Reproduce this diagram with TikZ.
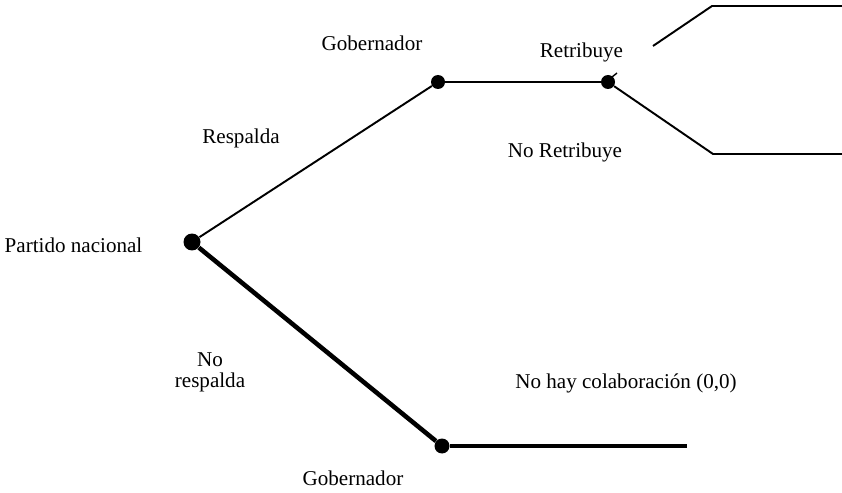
\documentclass[tikz,border=0pt]{standalone}
\usepackage{fontspec}
\setmainfont{Liberation Serif}
\usetikzlibrary{positioning}

\tikzset{
    dot/.style={circle, fill=black, inner sep=0pt, minimum size=#1},
    thinbranch/.style={line width=1.1pt},
    thickbranch/.style={line width=2.6pt},
    lbl/.style={inner sep=0pt, anchor=base, font=\fontsize{12}{12}\selectfont}
}

\begin{document}
\begin{tikzpicture}[x=0.02cm, y=-0.02cm]
    \useasboundingbox (0,0) rectangle (842,493);

    % Decision nodes
    \node[dot=0.34cm] (partido) at (192,242) {};
    \node[dot=0.28cm] (gobA) at (438,82) {};
    \node[dot=0.28cm] (retrib) at (608,82) {};
    \node[dot=0.30cm] (gobB) at (442,446) {};

    % Free ends of branches
    \coordinate (upA) at (653,46);
    \coordinate (upB) at (712,6);
    \coordinate (upC) at (842,6);
    \coordinate (downA) at (713,154);
    \coordinate (downB) at (842,154);
    \coordinate (endB) at (687,446);
    \coordinate (tickA) at (612,77);
    \coordinate (tickB) at (617,73);

    % Branches
    \draw[thinbranch] (partido) -- (gobA);
    \draw[thinbranch] (gobA) -- (retrib);
    \draw[thinbranch] (retrib) -- (downA) -- (downB);
    \draw[thinbranch] (upA) -- (upB) -- (upC);
    \draw[line width=0.8pt] (tickA) -- (tickB);
    \draw[thickbranch] (partido) -- (gobB);
    \draw[thickbranch] (gobB) -- (endB);

    % Labels
    \node[lbl] (lGobA) at (372,51) {Gobernador};
    \node[lbl] (lResp) at (241,144) {Respalda};
    \node[lbl] (lPart) at (73.5,253) {Partido nacional};
    \node[lbl, anchor=center, align=center] (lNoResp) at (210,372) {No\\respalda};
    \node[lbl] (lRet) at (581.5,58) {Retribuye};
    \node[lbl] (lNoRet) at (565,158) {No Retribuye};
    \node[lbl] (lNoHay) at (626,388) {No hay colaboración (0,0)};
    \node[lbl] (lGobB) at (353,485) {Gobernador};
\end{tikzpicture}
\end{document}
